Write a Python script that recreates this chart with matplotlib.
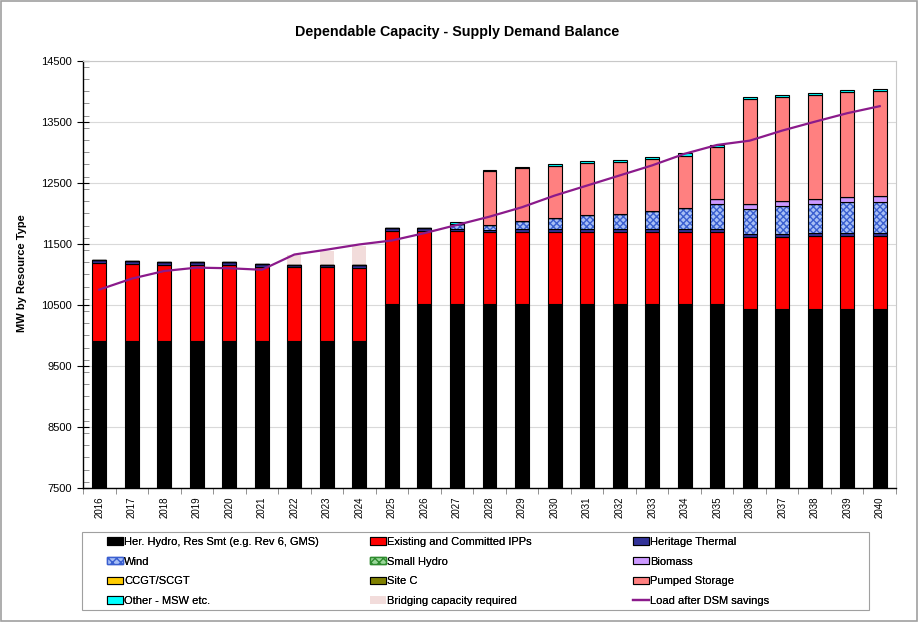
import numpy as np
import matplotlib
matplotlib.use("Agg")
import matplotlib.pyplot as plt
from matplotlib.patches import Patch, Rectangle
from matplotlib.lines import Line2D
from matplotlib.ticker import MultipleLocator, FixedLocator

plt.rcParams['font.family'] = ['Liberation Sans', 'DejaVu Sans']

years = list(range(2016, 2041))
hydro = [9900] * 9 + [10510] * 11 + [10440] * 5
ipps = [1285, 1275, 1250, 1250, 1245, 1220, 1215, 1220, 1210, 1195, 1195, 1195, 1180,
        1185, 1185, 1185, 1185, 1185, 1185, 1185, 1180, 1180, 1185, 1185, 1185]
heritage = [45, 50, 60, 60, 60, 50, 45, 40, 50, 55, 60, 45, 40,
            45, 45, 45, 45, 45, 45, 45, 45, 45, 45, 45, 45]
wind = [0] * 11 + [75, 85, 140, 180, 225, 245, 295, 345, 410, 410, 450, 480, 515, 520]
small_hydro = [0] * 25
biomass = [0] * 19 + [80, 80, 80, 80, 80, 100]
ccgt = [0] * 25
site_c = [0] * 25
pumped = [0] * 12 + [870, 855, 850, 855, 860, 860, 855, 855, 1715, 1710, 1710, 1715, 1710]
other = [0] * 11 + [30, 30, 30, 33, 33, 30, 32, 40, 30, 38, 38, 38, 38, 44]
bridging = [0] * 6 + [160, 222, 300] + [0] * 16
load = [10750, 10930, 11055, 11110, 11100, 11075, 11325, 11405, 11490, 11555, 11675,
        11810, 11945, 12100, 12290, 12455, 12620, 12785, 12975, 13120, 13190, 13355,
        13500, 13640, 13755]
y_ticks = [7500, 8500, 9500, 10500, 11500, 12500, 13500, 14500]

W, H = 919, 622
fig = plt.figure(figsize=(W / 100, H / 100), dpi=100)
ax = fig.add_axes([83 / W, 1 - 488 / H, (896 - 83) / W, (488 - 60.7) / H])

x = np.arange(len(years))
w = 0.43
bottom = np.zeros(len(years))

series = [
    ("Her. Hydro, Res Smt (e.g. Rev 6, GMS)", hydro, "#000000", None, None),
    ("Existing and Committed IPPs", ipps, "#ff0000", None, None),
    ("Heritage Thermal", heritage, "#333399", None, None),
    ("Wind", wind, "#a8bff5", "xxxxx", "#3a5fd0"),
    ("Small Hydro", small_hydro, "#9ad79a", "xxxxx", "#2e8b2e"),
    ("Biomass", biomass, "#cc99ff", None, None),
    ("CCGT/SCGT", ccgt, "#ffcc00", None, None),
    ("Site C", site_c, "#808000", None, None),
    ("Pumped Storage", pumped, "#ff8080", None, None),
    ("Other - MSW etc.", other, "#00ffff", None, None),
]

handles = {}
for name, vals, col, hatch, hcol in series:
    vals = np.array(vals, dtype=float)
    if hatch:
        ax.bar(x, vals, w, bottom=bottom, color=col, hatch=hatch, edgecolor=hcol,
               linewidth=0, zorder=3)
        ax.bar(x, vals, w, bottom=bottom, fill=False, edgecolor="black",
               linewidth=0.8, zorder=3)
        handles[name] = Patch(facecolor=col, hatch="xxxx", edgecolor=hcol, label=name)
    else:
        ax.bar(x, vals, w, bottom=bottom, color=col, edgecolor="black",
               linewidth=0.8, zorder=3)
        handles[name] = Patch(facecolor=col, edgecolor="black", linewidth=0.8, label=name)
    bottom += vals

ax.bar(x, bridging, w, bottom=bottom, color="#f2dcdb", linewidth=0, zorder=2)
handles["Bridging capacity required"] = Patch(facecolor="#f2dcdb", edgecolor="none",
                                              label="Bridging capacity required")

ax.plot(x, load, color="#8b1a8b", linewidth=1.6, zorder=4)
handles["Load after DSM savings"] = Line2D([], [], color="#8b1a8b", linewidth=1.6,
                                           label="Load after DSM savings")

ax.set_xlim(-0.5, len(years) - 0.5)
ax.set_ylim(7500, 14500)
ax.yaxis.set_major_locator(FixedLocator(y_ticks))
ax.yaxis.set_minor_locator(MultipleLocator(200))
ax.grid(axis="y", which="major", color="#d9d9d9", linewidth=0.8, zorder=0)
ax.tick_params(axis="y", which="major", direction="inout", length=8, width=0.8,
               labelsize=8, pad=4)
ax.tick_params(axis="y", which="minor", direction="in", length=4, width=0.6,
               color="#808080")

ax.set_xticks(x)
ax.set_xticklabels([str(yv) for yv in years], rotation=90, fontsize=7)
ax.xaxis.set_minor_locator(FixedLocator(np.arange(-0.5, len(years), 1)))
ax.tick_params(axis="x", which="major", length=0, pad=6)
ax.tick_params(axis="x", which="minor", direction="out", length=4, width=0.6,
               color="#808080")

for s in ["top", "right"]:
    ax.spines[s].set_color("#c8c8c8")
    ax.spines[s].set_linewidth(0.8)
for s in ["left", "bottom"]:
    ax.spines[s].set_color("black")
    ax.spines[s].set_linewidth(1.0)

fig.text(22 / W, 1 - 273 / H, "MW by Resource Type", rotation=90, ha="center",
         va="center", fontsize=8, fontweight="bold")
fig.text(457 / W, 1 - 32 / H, "Dependable Capacity - Supply Demand Balance",
         ha="center", va="center", fontsize=10.3, fontweight="bold")

# legend: three equal-width columns inside one box (Excel style)
columns = [
    ["Her. Hydro, Res Smt (e.g. Rev 6, GMS)", "Wind", "CCGT/SCGT", "Other - MSW etc."],
    ["Existing and Committed IPPs", "Small Hydro", "Site C", "Bridging capacity required"],
    ["Heritage Thermal", "Biomass", "Pumped Storage", "Load after DSM savings"],
]
col_x = [107, 370, 633]
for cx, names in zip(col_x, columns):
    leg = fig.legend([handles[k] for k in names], names, ncol=1,
                     loc="upper left", bbox_to_anchor=(cx / W, 1 - 537 / H),
                     fontsize=8, frameon=False,
                     handlelength=1.45, handleheight=0.63, handletextpad=0.12,
                     labelspacing=0.87, borderpad=0, borderaxespad=0)
    fig.add_artist(leg)

fig.patches.append(Rectangle((82 / W, 1 - 610 / H), (869 - 82) / W, (610 - 532) / H,
                             transform=fig.transFigure, fill=False,
                             edgecolor="#a0a0a0", linewidth=0.8))
fig.patches.append(Rectangle((0.001, 0.001), 0.997, 0.997, transform=fig.transFigure,
                             fill=False, edgecolor="#a0a0a0", linewidth=1.2))

fig.savefig("out.png", dpi=100)
